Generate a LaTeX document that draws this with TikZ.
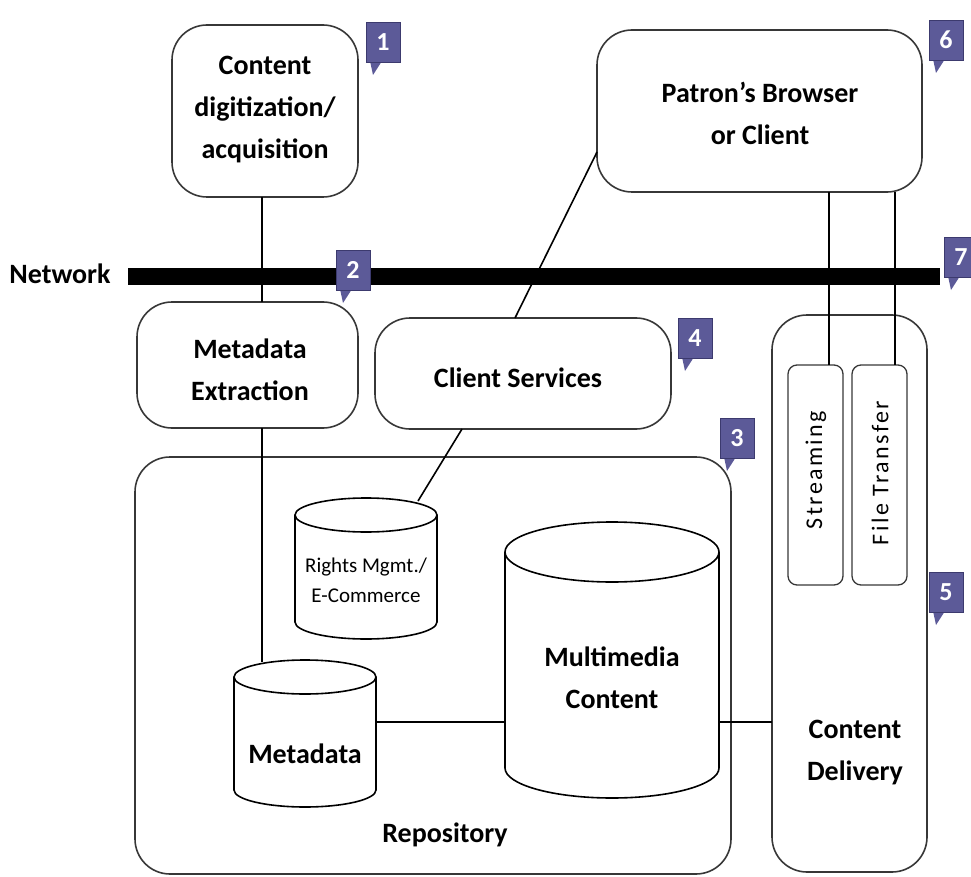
\documentclass[tikz,border=0pt]{standalone}
\usepackage{fontspec}
\setmainfont{Carlito}
\definecolor{badgec}{RGB}{92,90,152}
\definecolor{badged}{RGB}{60,58,110}
\definecolor{edgec}{RGB}{55,55,55}
\tikzset{
  box/.style={draw=edgec, line width=1.6pt, rounded corners=35pt},
  smallbox/.style={draw=edgec, line width=1.3pt, rounded corners=9pt},
  cyl/.style={draw=black, line width=1.6pt, fill=white},
  link/.style={draw=black, line width=2.6pt},
  thinlink/.style={draw=black, line width=1.6pt},
  lbl/.style={align=center, font=\fontsize{28}{42}\selectfont\bfseries},
  slbl/.style={align=center, font=\fontsize{21}{30}\selectfont},
  vlbl/.style={font=\fontsize{24}{30}\selectfont\addfontfeatures{LetterSpace=10}},
  badge/.style={fill=badgec, draw=badged, line width=0.8pt, minimum width=34pt, minimum height=40pt, inner sep=0pt, text=white, font=\fontsize{26}{26}\selectfont\bfseries},
}
\newcommand\mybadge[3]{%
  \fill[badgec] ([xshift=4pt,yshift=1pt]#2) ++(-17pt,-20pt) -- ++(12pt,0) -- ++(-9pt,-14pt) -- cycle;
  \node[badge] (#1) at (#2) {#3};}
\begin{document}
\begin{tikzpicture}[x=1pt,y=-1pt]
\useasboundingbox (0,0) rectangle (971,877);
% boxes
\draw[box] (172,25) rectangle (358,197);
\node[lbl] (cdtext) at (265,110) {Content\\digitization/\\acquisition};
\coordinate (cdbot) at (262,197);
\draw[box] (597,30) rectangle (922,192);
\node[lbl] (patron) at (760,113) {Patron's Browser\\or Client};
\coordinate (patL) at (597,152);
\coordinate (patS) at (829,192);
\coordinate (patF) at (895,192);
\draw[box] (137,302) rectangle (358,428);
\node[lbl] (me) at (250,370) {Metadata\\Extraction};
\coordinate (metop) at (262,302);
\coordinate (mebot) at (262,428);
\draw[box] (375,318) rectangle (671,429);
\node[lbl] (cs) at (518,378) {Client Services};
\coordinate (cstop) at (515,318);
\coordinate (csbot) at (462,429);
\draw[box] (135,457) rectangle (731,874);
\node[lbl] (repo) at (445,835) {Repository};
\draw[box] (772,315) rectangle (927,872);
\node[lbl] (cdel) at (855,753) {Content\\Delivery};
\coordinate (cdelL) at (772,722);
\draw[smallbox] (788,365) rectangle (843,585);
\node[vlbl, rotate=90] (stream) at (816,470) {Streaming};
\coordinate (streamtop) at (829,365);
\draw[smallbox] (852,365) rectangle (907,585);
\node[vlbl, rotate=90] (ftrans) at (880,473) {File Transfer};
\coordinate (ftranstop) at (895,365);
% cylinders
\draw[cyl] (295,515) -- (295,622) arc[start angle=180,end angle=0,x radius=71,y radius=17] -- (437,515);
\draw[cyl] (366,515) ellipse[x radius=71,y radius=17];
\node[slbl] (rights) at (366,580) {Rights Mgmt./\\E-Commerce};
\coordinate (rightstop) at (418,501);
\draw[cyl] (234,677) -- (234,790) arc[start angle=180,end angle=0,x radius=71,y radius=17] -- (376,677);
\draw[cyl] (305,677) ellipse[x radius=71,y radius=17];
\node[lbl] (meta) at (305,754) {Metadata};
\coordinate (metatop) at (262,662);
\coordinate (metaR) at (376,722);
\draw[cyl] (505,552) -- (505,768) arc[start angle=180,end angle=0,x radius=107,y radius=30] -- (719,552);
\draw[cyl] (612,552) ellipse[x radius=107,y radius=30];
\node[lbl] (mm) at (612,678) {Multimedia\\Content};
\coordinate (mmL) at (505,722);
\coordinate (mmR) at (719,722);
% connectors
\draw[link] (cdbot) -- (metop);
\draw[link] (mebot) -- (metatop);
\draw[thinlink] (csbot) -- (rightstop);
\draw[thinlink] (patL) -- (cstop);
\draw[link] (metaR) -- (mmL);
\draw[link] (mmR) -- (cdelL);
\draw[link] (patS) -- (streamtop);
\draw[link] (patF) -- (ftranstop);
% network
\coordinate (netA) at (128,276);
\coordinate (netB) at (940,276);
\draw[line width=17pt] (netA) -- (netB);
\node[font=\fontsize{28}{30}\selectfont\bfseries] (net) at (60,274) {Network};
% badges
\mybadge{b1}{383,42}{1}
\mybadge{b2}{353,270}{2}
\mybadge{b3}{737,438}{3}
\mybadge{b4}{695,338}{4}
\mybadge{b5}{946,592}{5}
\mybadge{b6}{946,40}{6}
\mybadge{b7}{961,257}{7}
\end{tikzpicture}
\end{document}
